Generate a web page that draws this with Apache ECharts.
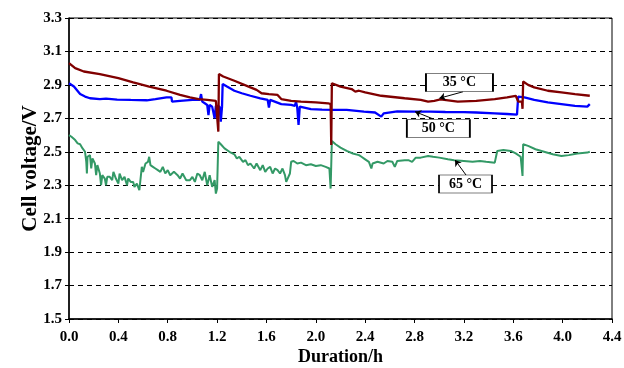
<!DOCTYPE html>
<html>
<head>
<meta charset="utf-8">
<script src="https://cdn.jsdelivr.net/npm/echarts@6/dist/echarts.min.js"></script>
<style>
  html, body { margin: 0; padding: 0; background: #fff; }
  #chart { width: 624px; height: 368px; }
</style>
</head>
<body>
<div id="chart"></div>
<script>
// duration (h), cell voltage (V)
const v35 = [
  [0.00,3.03],[0.05,3.00],[0.12,2.98],[0.25,2.965],[0.40,2.94],[0.52,2.915],[0.65,2.89],
  [0.79,2.865],[0.90,2.84],[0.98,2.825],[1.05,2.815],[1.12,2.81],[1.19,2.805],[1.205,2.80],
  [1.21,2.62],[1.215,2.965],[1.25,2.95],[1.34,2.925],[1.47,2.885],[1.52,2.87],[1.56,2.85],
  [1.62,2.845],[1.69,2.84],[1.72,2.815],[1.80,2.805],[1.88,2.80],[2.00,2.795],[2.10,2.79],
  [2.12,2.785],[2.125,2.54],[2.13,2.91],[2.20,2.89],[2.29,2.875],[2.32,2.86],[2.35,2.865],
  [2.40,2.855],[2.53,2.835],[2.72,2.82],[2.85,2.81],[2.91,2.80],[2.96,2.805],[3.01,2.813],
  [3.15,2.80],[3.30,2.805],[3.45,2.815],[3.55,2.825],[3.62,2.835],[3.635,2.835],[3.64,2.80],
  [3.67,2.80],[3.675,2.757],[3.68,2.92],[3.72,2.90],[3.77,2.885],[3.88,2.865],[3.99,2.855],
  [4.10,2.845],[4.22,2.835]
];
const v50 = [
  [0.00,2.91],[0.01,2.92],[0.04,2.89],[0.09,2.845],[0.13,2.83],[0.17,2.82],[0.25,2.815],
  [0.30,2.818],[0.39,2.812],[0.50,2.81],[0.63,2.808],[0.70,2.815],[0.79,2.825],[0.83,2.825],
  [0.835,2.80],[0.90,2.805],[1.00,2.81],[1.06,2.81],[1.07,2.845],[1.08,2.80],[1.10,2.79],
  [1.12,2.78],[1.13,2.72],[1.14,2.78],[1.16,2.77],[1.18,2.70],[1.19,2.775],[1.22,2.77],
  [1.23,2.68],[1.24,2.77],[1.245,2.905],[1.28,2.89],[1.34,2.865],[1.40,2.85],[1.47,2.835],
  [1.55,2.82],[1.61,2.81],[1.62,2.765],[1.63,2.81],[1.72,2.785],[1.80,2.78],[1.83,2.775],
  [1.84,2.80],[1.85,2.76],[1.86,2.66],[1.87,2.77],[1.96,2.755],[2.05,2.752],[2.15,2.75],
  [2.25,2.75],[2.39,2.74],[2.48,2.735],[2.53,2.71],[2.55,2.73],[2.66,2.742],[2.80,2.74],
  [2.93,2.74],[3.05,2.738],[3.20,2.737],[3.30,2.735],[3.45,2.73],[3.55,2.726],[3.63,2.722],
  [3.64,2.83],[3.69,2.825],[3.77,2.81],[3.88,2.795],[3.99,2.785],[4.10,2.775],[4.20,2.77],
  [4.22,2.785]
];
const v65 = [
  [0.00,2.60],[0.02,2.59],[0.05,2.57],[0.07,2.55],[0.09,2.545],[0.11,2.52],[0.13,2.50],
  [0.14,2.44],[0.145,2.37],[0.15,2.47],[0.17,2.48],[0.18,2.40],[0.19,2.46],[0.21,2.43],
  [0.22,2.36],[0.23,2.42],[0.25,2.37],[0.26,2.30],[0.27,2.36],[0.29,2.34],[0.30,2.30],
  [0.31,2.35],[0.33,2.35],[0.35,2.33],[0.36,2.38],[0.38,2.34],[0.40,2.31],[0.41,2.37],
  [0.43,2.33],[0.45,2.35],[0.47,2.30],[0.48,2.34],[0.50,2.32],[0.52,2.32],[0.53,2.29],
  [0.55,2.31],[0.57,2.27],[0.58,2.28],[0.59,2.41],[0.60,2.38],[0.62,2.43],[0.64,2.44],
  [0.65,2.47],[0.66,2.42],[0.68,2.41],[0.70,2.40],[0.72,2.39],[0.74,2.38],[0.76,2.41],
  [0.78,2.37],[0.80,2.39],[0.82,2.36],[0.85,2.38],[0.88,2.36],[0.90,2.34],[0.92,2.37],
  [0.95,2.33],[0.98,2.33],[1.00,2.35],[1.02,2.32],[1.04,2.37],[1.06,2.36],[1.08,2.33],
  [1.10,2.38],[1.12,2.30],[1.14,2.36],[1.16,2.29],[1.18,2.33],[1.19,2.25],[1.20,2.28],
  [1.21,2.56],[1.23,2.545],[1.26,2.52],[1.30,2.50],[1.34,2.485],[1.36,2.46],[1.38,2.47],
  [1.41,2.44],[1.43,2.45],[1.45,2.42],[1.47,2.43],[1.50,2.40],[1.52,2.43],[1.55,2.39],
  [1.57,2.42],[1.59,2.38],[1.61,2.40],[1.63,2.41],[1.65,2.37],[1.67,2.40],[1.69,2.39],
  [1.71,2.37],[1.73,2.40],[1.75,2.36],[1.76,2.32],[1.77,2.31],[1.79,2.37],[1.80,2.44],
  [1.82,2.445],[1.85,2.43],[1.88,2.435],[1.92,2.42],[1.96,2.425],[2.00,2.415],[2.04,2.42],
  [2.08,2.41],[2.11,2.40],[2.12,2.28],[2.13,2.565],[2.16,2.545],[2.20,2.525],[2.25,2.505],
  [2.30,2.49],[2.35,2.48],[2.37,2.47],[2.40,2.455],[2.43,2.44],[2.45,2.40],[2.46,2.43],
  [2.50,2.44],[2.55,2.43],[2.58,2.445],[2.62,2.44],[2.64,2.41],[2.66,2.445],[2.72,2.45],
  [2.75,2.45],[2.78,2.44],[2.81,2.465],[2.85,2.465],[2.91,2.475],[2.95,2.47],[3.00,2.465],
  [3.07,2.455],[3.12,2.45],[3.20,2.445],[3.27,2.44],[3.33,2.445],[3.38,2.44],[3.45,2.435],
  [3.46,2.44],[3.47,2.505],[3.52,2.51],[3.58,2.505],[3.62,2.49],[3.66,2.47],[3.67,2.46],
  [3.675,2.355],[3.68,2.545],[3.72,2.535],[3.78,2.515],[3.85,2.50],[3.92,2.485],[3.99,2.475],
  [4.05,2.48],[4.12,2.49],[4.20,2.495],[4.22,2.50]
];

const seriesNames = ["35 °C", "50 °C", "65 °C"];
const colors = ["#800000", "#0000ff", "#339966"];

// callouts: [box centre, arrow start, arrow tip, box size] in data coords
const callouts = [
  { box: [3.164, 2.914], from: [3.193, 2.859], to: [3.001, 2.820], size: [67, 18] },
  { box: [2.993, 2.639], from: [2.952, 2.696], to: [2.804, 2.740], size: [63, 18] },
  { box: [3.213, 2.307], from: [3.217, 2.361], to: [3.128, 2.451], size: [53, 18] }
];

const FONT = "Liberation Serif";
const chart = echarts.init(document.getElementById("chart"));

const series = [v35, v50, v65].map((d, i) => ({
  name: seriesNames[i],
  type: "line",
  data: d,
  showSymbol: false,
  symbol: "none",
  lineStyle: { color: colors[i], width: i === 2 ? 2 : 2.3 },
  z: 3 - i,
  markLine: {
    silent: true,
    animation: false,
    symbol: ["none", "arrow"],
    symbolSize: 6,
    lineStyle: { color: "#000", width: 1, type: "solid" },
    itemStyle: { color: "#000" },
    label: { show: false },
    data: [[{ coord: callouts[i].from }, { coord: callouts[i].to }]]
  },
  markPoint: {
    silent: true,
    animation: false,
    symbol: "rect",
    symbolSize: callouts[i].size,
    itemStyle: { color: "#fff", borderColor: "#000", borderWidth: 1 },
    label: {
      show: true,
      position: "inside",
      formatter: seriesNames[i],
      color: "#000",
      fontFamily: FONT,
      fontWeight: "bold",
      fontSize: 14
    },
    data: [{ coord: callouts[i].box }]
  }
}));

chart.setOption({
  animation: false,
  grid: {
    left: 69, right: 12, top: 18, bottom: 49,
    outerBoundsMode: "none",
    containLabel: false,
    show: true, borderColor: "#000", borderWidth: 1
  },
  xAxis: {
    type: "value",
    min: 0, max: 4.4, interval: 0.4,
    name: "Duration/h",
    nameLocation: "middle",
    nameGap: 29,
    nameMoveOverlap: false,
    nameTextStyle: { color: "#000", fontFamily: FONT, fontWeight: "bold", fontSize: 18 },
    axisLine: { lineStyle: { color: "#000", width: 1.5 } },
    axisTick: { show: true, length: 4, lineStyle: { color: "#000" } },
    axisLabel: {
      color: "#000", fontFamily: FONT, fontWeight: "bold", fontSize: 15, margin: 11,
      formatter: (v) => v.toFixed(1)
    },
    splitLine: { show: false }
  },
  yAxis: {
    type: "value",
    min: 1.5, max: 3.3, interval: 0.2,
    name: "Cell voltage/V",
    nameLocation: "middle",
    nameGap: 28,
    nameMoveOverlap: false,
    nameTextStyle: { color: "#000", fontFamily: FONT, fontWeight: "bold", fontSize: 21 },
    axisLine: { show: true, lineStyle: { color: "#000", width: 1.5 } },
    axisTick: { show: true, length: 4, lineStyle: { color: "#000" } },
    axisLabel: {
      color: "#000", fontFamily: FONT, fontWeight: "bold", fontSize: 15, margin: 7,
      formatter: (v) => v.toFixed(1)
    },
    splitLine: { show: true, lineStyle: { color: "#000", width: 1, type: [5, 4] } }
  },
  series: series
});
</script>
</body>
</html>
